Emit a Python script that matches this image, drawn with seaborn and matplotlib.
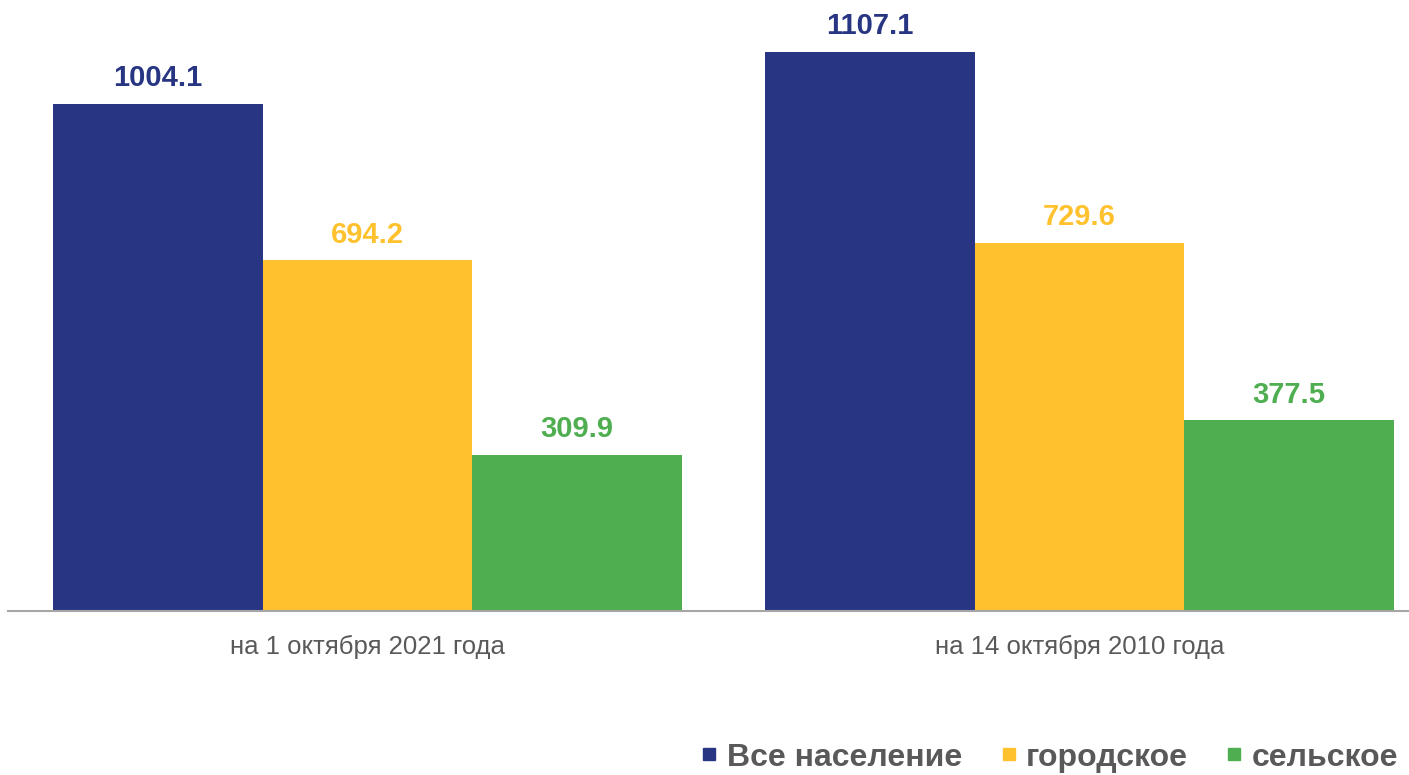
import matplotlib
matplotlib.use("Agg")
import matplotlib.pyplot as plt
from matplotlib.lines import Line2D
import seaborn as sns
import pandas as pd

categories = ["на 1 октября 2021 года", "на 14 октября 2010 года"]
series_names = ["Все население", "городское", "сельское"]
vals_all = [1004.1, 1107.1]
vals_urban = [694.2, 729.6]
vals_rural = [309.9, 377.5]
colors = ["#283583", "#FFC12E", "#4EAE50"]

rows = []
for name, vals in zip(series_names, [vals_all, vals_urban, vals_rural]):
    for c, v in zip(categories, vals):
        rows.append({"cat": c, "series": name, "value": v})
df = pd.DataFrame(rows)

sns.set_theme(style="white")
plt.rcParams['font.family'] = ['Liberation Sans', 'DejaVu Sans']

fig = plt.figure(figsize=(14.09, 7.75), dpi=100)
ax = fig.add_axes([8/1409, (775-611)/775, 1 - 8/1409, 611/775])

sns.barplot(data=df, x="cat", y="value", hue="series", order=categories,
            hue_order=series_names, palette=colors, width=0.883, gap=0,
            saturation=1, ax=ax, legend=False, errorbar=None, linewidth=0)

ax.set_xlim(-0.505, 1.463)
ax.set_ylim(0, 1210)
ax.set_xlabel("")
ax.set_ylabel("")
ax.set_yticks([])
for s in ["top", "right", "left"]:
    ax.spines[s].set_visible(False)
ax.spines["bottom"].set_color("#A6A6A6")
ax.spines["bottom"].set_linewidth(1.5)
ax.tick_params(axis="x", length=0, pad=17, labelsize=18.5, labelcolor="#595959")

for container, col in zip(ax.containers, colors):
    for bar in container:
        h = bar.get_height()
        ax.annotate(f"{h:.1f}", (bar.get_x() + bar.get_width()/2, h),
                    xytext=(0, 8.5), textcoords="offset points",
                    ha="center", va="bottom", fontsize=21, fontweight="bold", color=col)

handles = [Line2D([0], [0], marker="s", linestyle="", markersize=9,
                  markerfacecolor=c, markeredgecolor=c) for c in colors]
leg = fig.legend(handles, series_names, loc="lower right", bbox_to_anchor=(1.013, -0.034),
                 ncol=3, frameon=False, handletextpad=0.15, columnspacing=1.05,
                 handlelength=0.8,
                 prop={"size": 23, "weight": "bold"})
for t in leg.get_texts():
    t.set_color("#595959")

fig.savefig("out.png", dpi=100)
